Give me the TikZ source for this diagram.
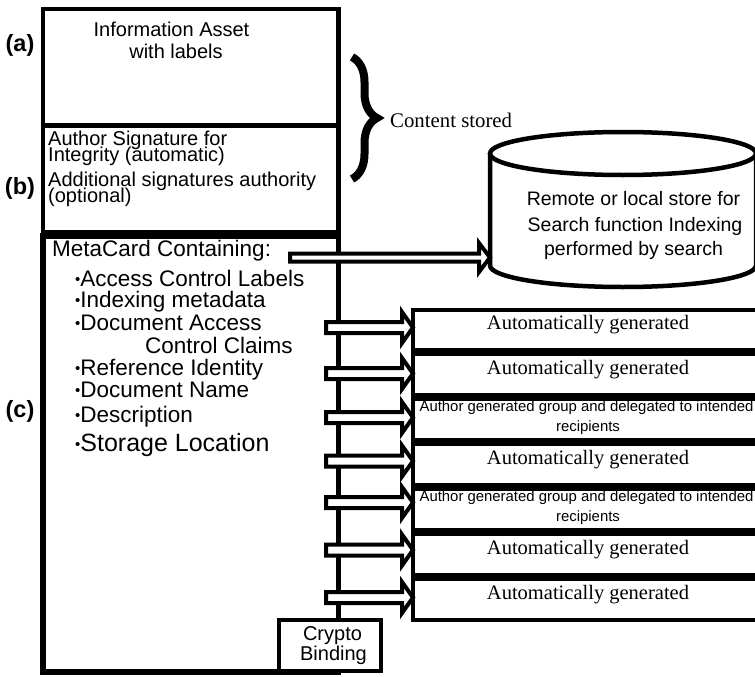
\documentclass[tikz,border=0pt]{standalone}
\usepackage{fontspec}
\setmainfont{Liberation Serif}
\setsansfont{Liberation Sans}
\usetikzlibrary{calc,decorations.pathreplacing}

\tikzset{
  frame/.style={draw, line width=4.5pt, anchor=north west, inner sep=0pt, outer sep=0pt},
  rowbox/.style={frame, line width=4pt, minimum width=350pt, minimum height=40.86pt},
  sanstext/.style={font=\sffamily\fontsize{20}{22}\selectfont, inner sep=0pt},
  listtext/.style={font=\sffamily\fontsize{22.5}{24}\selectfont, inner sep=0pt, anchor=base west},
  storetext/.style={font=\sffamily\fontsize{19.5}{22}\selectfont, inner sep=0pt, anchor=base},
  serifgen/.style={font=\fontsize{20.5}{23}\selectfont, inner sep=0pt, anchor=base},
  smallsans/.style={font=\sffamily\fontsize{14.9}{18}\selectfont, inner sep=0pt, anchor=base},
  tagtext/.style={font=\sffamily\bfseries\fontsize{23.5}{26}\selectfont, inner sep=0pt},
  fatline/.style={draw, fill=white, line width=4pt, miter limit=10},
}
\newcommand{\listdot}{\raisebox{2pt}{\fontsize{15}{15}\selectfont\textbullet}}
% hollow arrow: shaft half height, head half height, from, to
\newcommand{\fatarrow}[4]{%
  \draw[fatline] let \p1=(#3), \p2=(#4) in
    (\x1,\y1+#1) -- (\x2-11pt,\y1+#1) -- (\x2-11pt,\y1+#2) -- (\x2,\y1)
    -- (\x2-11pt,\y1-#2) -- (\x2-11pt,\y1-#1) -- (\x1,\y1-#1) -- cycle;}

\begin{document}
\begin{tikzpicture}[x=1pt, y=-1pt]
  \useasboundingbox (0,0) rectangle (755,677);
  \clip (0,0) rectangle (755,677);

  % left column
  \node[frame, minimum width=295.5pt, minimum height=116.5pt] (asset) at (43,9) {};
  \node[frame, minimum width=295.5pt, minimum height=106.5pt] (sigs) at (43,125.5) {};
  \node[frame, line width=5.5pt, minimum width=295.5pt, minimum height=436pt] (meta) at (43,236) {};
  \node[frame, fill=white, minimum width=102pt, minimum height=51pt] (crypto) at (279,620) {};

  \node[tagtext] (taga) at (20,45) {(a)};
  \node[tagtext] (tagb) at (20,188) {(b)};
  \node[tagtext] (tagc) at (20,411) {(c)};

  \node[sanstext, anchor=base] (asset1) at (171.5,36.7) {Information Asset};
  \node[sanstext, anchor=base] (asset2) at (176,59) {with labels};

  \node[sanstext, anchor=base west] (sig1) at (48,145) {Author Signature for};
  \node[sanstext, anchor=base west] (sig2) at (48,161) {Integrity (automatic)};
  \node[sanstext, anchor=base west] (sig3) at (48,186.7) {Additional signatures authority};
  \node[sanstext, anchor=base west] (sig4) at (48,202) {(optional)};

  \node[listtext] (mc0) at (52,256) {MetaCard Containing:};
  \node[listtext] (mc1) at (75,286) {\listdot Access Control Labels};
  \node[listtext] (mc2) at (75,307) {\listdot Indexing metadata};
  \node[listtext] (mc3) at (75,330) {\listdot Document Access};
  \node[listtext] (mc3b) at (145,353) {Control Claims};
  \node[listtext] (mc4) at (75,375) {\listdot Reference Identity};
  \node[listtext] (mc5) at (75,397) {\listdot Document Name};
  \node[listtext] (mc6) at (75,422) {\listdot Description};
  \node[listtext, font=\sffamily\fontsize{25}{28}\selectfont] (mc7) at (75,451) {\listdot Storage Location};

  \node[sanstext, anchor=base] (crypto1) at (332.5,640) {Crypto};
  \node[sanstext, anchor=base] (crypto2) at (333.5,660) {Binding};

  % brace
  \draw[decorate, decoration={brace, amplitude=25pt}, line width=8pt] (352,57) -- (352,179);
  \node[serifgen, anchor=base west, font=\fontsize{20.8}{23}\selectfont] (stored) at (390,127) {Content stored};

  % store
  \draw[line width=4.5pt] (490,153.5) -- (490,265.5)
    arc[start angle=180, end angle=0, x radius=133, y radius=21.5] -- (756,153.5);
  \draw[line width=4.5pt] (623,153.5) ellipse [x radius=133, y radius=21.5];
  \node[storetext] (store1) at (633.5,205) {Remote or local store for};
  \node[storetext] (store2) at (635,231) {Search function Indexing};
  \node[storetext] (store3) at (633.5,255) {performed by search};

  \coordinate (metatail) at (290,257.5);
  \coordinate (storein) at (490,257.5);
  \fatarrow{4pt}{14.5pt}{metatail}{storein}

  % claim rows
  \foreach \i in {1,...,7}
    \node[rowbox] (row\i) at (413,{309.5+44.86*(\i-1)}) {};
  \foreach \i in {1,2,4,6,7}
    \node[serifgen] (gen\i) at (row\i.center) {Automatically generated};
  \foreach \i in {3,5} {
    \node[smallsans] (grp\i) at ([xshift=-1.5pt, yshift=8pt]row\i.center) {Author generated group and delegated to intended};
    \node[smallsans] (rcp\i) at ([yshift=-12pt]row\i.center) {recipients};
  }

  \foreach \i/\y in {1/327.5, 2/373.5, 3/417.5, 4/461, 5/502.5, 6/550, 7/597.5} {
    \coordinate (tail\i) at (326,\y);
    \fatarrow{5.5pt}{15.5pt}{tail\i}{row\i.west}
  }
\end{tikzpicture}
\end{document}
